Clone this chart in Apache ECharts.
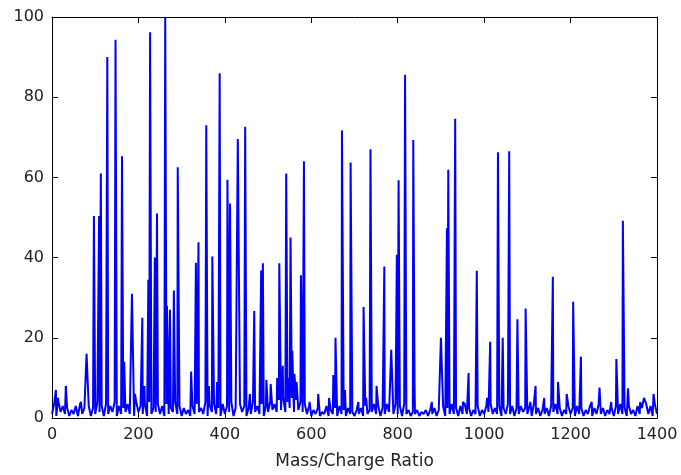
<!DOCTYPE html>
<html>
<head>
<meta charset="utf-8">
<script src="https://cdn.jsdelivr.net/npm/echarts@6/dist/echarts.min.js"></script>
<style>html,body{margin:0;padding:0;background:#fff;}#c{width:681px;height:475px;}</style>
</head>
<body>
<div id="c"></div>
<script>
// x tick labels
const xTicks = [0, 200, 400, 600, 800, 1000, 1200, 1400];
const yTicks = [0, 20, 40, 60, 80, 100];
const xLabel = 'Mass/Charge Ratio';

// baseline noise, one value every 5 m/z from 0 to 1400
const baseStep = 5;
const baseline = [
 1,3.5,0.5,4,1.5,3,1,2.5,0.5,2,1,3,0.5,3.5,1,2.5,1.5,3,0.5,2.5,
 1,4,1.5,3,0.5,3.5,1,3,1.5,4,0.5,3,1,2.5,1.5,3.5,1,3,0.5,4,
 1.5,3,1,3.5,0.5,4,1,2.5,1.5,3.5,1,3,0.5,3.5,1,2.5,1.5,4,1,3,
 0.5,2.5,1,2,0.5,3,1,3.5,1.5,2.5,1,4,0.5,3,1.5,3.5,1,2.5,0.5,3.5,
 1,3,1.5,4,0.5,2.5,1,3.5,1.5,3,0.5,2.5,1,4,1.5,3,1,3.5,0.5,3,
 1.5,4,2,3.5,1.5,4.5,2,5,1.5,4,2.5,5,1.5,4.5,2,4,1.5,3.5,1,3,
 0.5,2,1,2.5,0.5,1.5,1,3,0.5,2,1,2.5,0.5,3,1,2,0.5,2.5,1,1.5,
 0.5,2,1,2.5,0.5,3,1,2,1.5,3.5,1,3,0.5,2.5,1,3.5,1.5,3,1,3.5,
 1,3,0.5,3.5,1,2,0.5,1.5,1,2,0.5,1.5,1,2,0.5,2,1,2.5,0.5,2,
 1,3,0.5,2.5,1,3.5,1,2.5,0.5,3,1,3.5,1,2.5,0.5,2,1,3,0.5,2,
 1,3,1.5,3.5,1,2.5,1,3,0.5,2.5,1,3.5,1,3,0.5,2.5,1,3,1.5,2.5,
 1,3,0.5,3.5,1,2.5,0.5,2,1,2.5,0.5,3,1.5,3.5,1,2.5,0.5,2,1,3,
 1,2.5,0.5,3,1,2.5,0.5,2,1,3,0.5,2.5,1,3.5,1,2.5,0.5,2,1,2.5,
 0.5,3,1,3.5,1,2.5,0.5,3,1,2,0.5,3,1,2.5,1,3.5,1,3,0.5,3.5,
 1
];

// peak positions (m/z) and intensities
const peakMz = [
 9,14,32,67,80,97,109,113,128,147,162,167,185,192,209,214,223,227,238,243,
 262,266,273,282,291,322,333,339,357,363,371,382,388,406,412,430,447,458,468,484,
 488,496,506,521,526,534,542,546,552,556,561,566,576,583,596,616,641,651,656,671,
 678,691,709,721,727,737,751,766,769,785,798,802,817,836,839,879,900,914,917,933,
 951,964,983,1007,1014,1032,1043,1058,1077,1096,1107,1119,1139,1159,1171,1191,1206,1224,1249,1267,
 1294,1306,1321,1333,1361,1370,1392
];
const peakVal = [
 7,5,8,4,16,50.4,50.4,61,90,94.3,65.3,14,31,6,25,8,34.5,96.2,40,51,
 100,28,27,31.8,62.5,11.6,38.7,43.8,73,8,40.3,9,86,59.4,53.5,69.6,72.6,6,26.7,36.8,
 38.6,9.5,8.5,10,38.6,13,61,10,45,16.8,11,9,35.6,64,4,6,5,10.7,20,71.7,
 7,63.7,4,27.7,5,67,8,10,37.8,17,40.7,59.3,85.6,69.3,8,4,20,47.3,61.9,74.6,
 4,11.2,36.7,5,19,66.3,20,66.5,24.6,27.3,4,8,5,35.2,9,6,29,15.3,4,7.6,
 4,14.7,49.2,7.4,4,5,6
];

// build [x, y] pairs from arrays
const points = [];
const peakSet = new Set(peakMz);
baseline.forEach((v, i) => {
  const x = i * baseStep;
  if (!peakSet.has(x)) points.push([x, v]);
});
peakMz.forEach((m, i) => points.push([m, peakVal[i]]));
points.sort((a, b) => a[0] - b[0]);

const font = 'DejaVu Sans';
const axisCommon = {
  splitLine: { show: false },
  axisLine: { show: true, onZero: false, lineStyle: { color: '#000', width: 1 } },
  axisTick: { show: true, inside: true, length: 6, lineStyle: { color: '#000', width: 1 } }
};

const chart = echarts.init(document.getElementById('c'), null, { renderer: 'canvas' });
chart.setOption({
  animation: false,
  backgroundColor: '#fff',
  grid: { left: 52, right: 24, top: 17, bottom: 55, containLabel: false },
  xAxis: [
    Object.assign({}, axisCommon, {
      type: 'value', min: xTicks[0], max: xTicks[xTicks.length - 1], interval: 200, position: 'bottom',
      axisLabel: { show: true, color: '#222', fontSize: 16, fontFamily: font, margin: 9,
        formatter: v => String(v) },
      name: xLabel, nameLocation: 'middle', nameGap: 35,
      nameTextStyle: { color: '#222', fontSize: 17, fontFamily: font }
    }),
    Object.assign({}, axisCommon, {
      type: 'value', min: xTicks[0], max: xTicks[xTicks.length - 1], interval: 200, position: 'top',
      axisLabel: { show: false }
    })
  ],
  yAxis: [
    Object.assign({}, axisCommon, {
      type: 'value', min: yTicks[0], max: yTicks[yTicks.length - 1], interval: 20, position: 'left',
      axisLabel: { show: true, color: '#222', fontSize: 16, fontFamily: font, margin: 8,
        formatter: v => String(v) }
    }),
    Object.assign({}, axisCommon, {
      type: 'value', min: yTicks[0], max: yTicks[yTicks.length - 1], interval: 20, position: 'right',
      axisLabel: { show: false }
    })
  ],
  series: [{
    type: 'line',
    xAxisIndex: 0,
    yAxisIndex: 0,
    data: points,
    showSymbol: false,
    symbol: 'none',
    lineStyle: { color: '#0000ff', width: 2 },
    clip: true
  }]
});
</script>
</body>
</html>
